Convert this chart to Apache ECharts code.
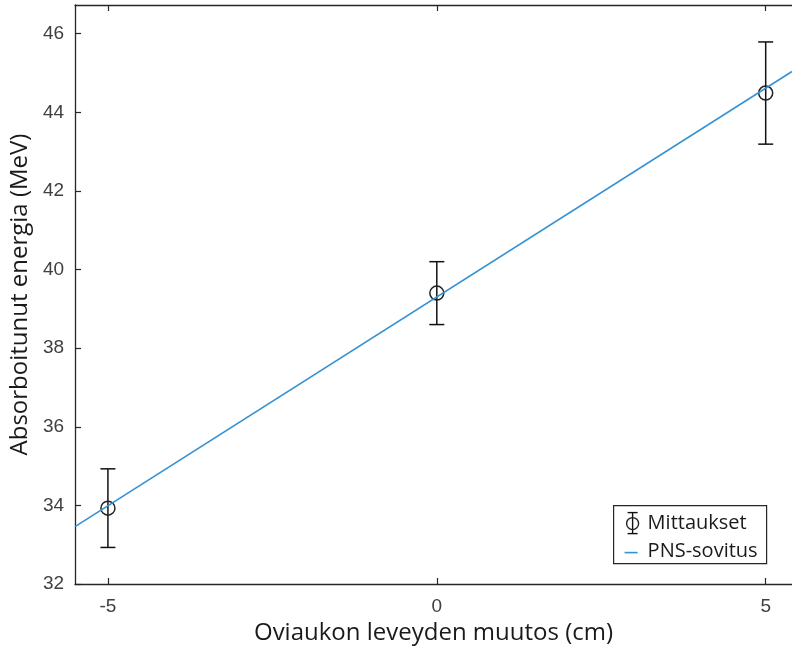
<!DOCTYPE html>
<html>
<head>
<meta charset="utf-8">
<title>Absorboitunut energia</title>
<script src="https://cdn.jsdelivr.net/npm/echarts@6/dist/echarts.min.js"></script>
<style>
  html, body { margin: 0; padding: 0; background: #fff; }
  #chart { width: 792px; height: 651px; }
</style>
</head>
<body>
<div id="chart"></div>
<script>
// Measurements: opening width change (cm), absorbed energy (MeV), uncertainty (MeV)
const measX = [-5, 0, 5];
const measY = [33.93, 39.40, 44.49];
const measErr = [1.00, 0.80, 1.30];

// Least-squares fit line, end points across the plotted range
const fitX = [-5.5, 5.4];
const fitY = [33.46, 45.04];

// Axis ticks
const xTicks = [-5, 0, 5];
const yTicks = [32, 34, 36, 38, 40, 42, 44, 46];

const axisColor = '#262626';
const labelColor = '#404040';
const fitColor = '#3391d4';
const textFont = '"Open Sans", "Noto Sans", sans-serif';
const tickFont = '"Liberation Sans", Arial, sans-serif';

const chart = echarts.init(document.getElementById('chart'), null, { renderer: 'canvas' });

const errData = measX.map((x, i) => [x, measY[i], measErr[i]]);
const fitData = fitX.map((x, i) => [x, fitY[i]]);

function renderErrorBar(params, api) {
  const x = api.value(0), y = api.value(1), e = api.value(2);
  const top = api.coord([x, y + e]);
  const bot = api.coord([x, y - e]);
  const mid = api.coord([x, y]);
  const cap = 7.5;
  const stroke = { stroke: '#111', lineWidth: 1.5, fill: null };
  return {
    type: 'group',
    children: [
      { type: 'line', shape: { x1: top[0], y1: top[1], x2: bot[0], y2: bot[1] }, style: stroke },
      { type: 'line', shape: { x1: top[0] - cap, y1: top[1], x2: top[0] + cap, y2: top[1] }, style: stroke },
      { type: 'line', shape: { x1: bot[0] - cap, y1: bot[1], x2: bot[0] + cap, y2: bot[1] }, style: stroke },
      { type: 'circle', shape: { cx: mid[0], cy: mid[1], r: 7 }, style: { stroke: '#222', lineWidth: 1.5, fill: null } }
    ]
  };
}

const xBase = {
  type: 'value',
  min: -5.5,
  max: 5.4,
  splitLine: { show: false },
  axisLine: { show: true, onZero: false, lineStyle: { color: axisColor, width: 1.3 } },
  axisTick: { show: true, inside: true, length: 6, customValues: xTicks, lineStyle: { color: axisColor, width: 1.2 } }
};

const option = {
  animation: false,
  backgroundColor: '#fff',
  grid: { left: 74, right: 0, top: 5, bottom: 67, containLabel: false },
  xAxis: [
    Object.assign({}, xBase, {
      position: 'bottom',
      name: 'Oviaukon leveyden muutos (cm)',
      nameLocation: 'middle',
      nameGap: 32,
      nameTextStyle: { fontFamily: textFont, fontSize: 24, color: '#1a1a1a' },
      axisLabel: { customValues: xTicks, margin: 13, fontFamily: tickFont, fontSize: 19, color: labelColor }
    }),
    Object.assign({}, xBase, {
      position: 'top',
      axisLabel: { show: false }
    })
  ],
  yAxis: {
    type: 'value',
    min: 32,
    max: 46.73,
    splitLine: { show: false },
    name: 'Absorboitunut energia (MeV)',
    nameLocation: 'middle',
    nameGap: 37,
    nameTextStyle: { fontFamily: textFont, fontSize: 24, color: '#1a1a1a' },
    axisLine: { show: true, onZero: false, lineStyle: { color: axisColor, width: 1.3 } },
    axisTick: { show: true, inside: true, length: 6, customValues: yTicks, lineStyle: { color: axisColor, width: 1.2 } },
    axisLabel: { customValues: yTicks, margin: 11, fontFamily: tickFont, fontSize: 19, color: labelColor }
  },
  series: [
    {
      name: 'Mittaukset',
      type: 'custom',
      renderItem: renderErrorBar,
      data: errData,
      encode: { x: 0, y: [1] },
      z: 3
    },
    {
      name: 'PNS-sovitus',
      type: 'line',
      data: fitData,
      showSymbol: false,
      symbol: 'none',
      lineStyle: { color: fitColor, width: 1.6 },
      clip: true,
      z: 4
    }
  ],
  graphic: [
    {
      type: 'group',
      left: 613,
      top: 505,
      children: [
        { type: 'rect', shape: { x: 0, y: 0, width: 153, height: 58 }, style: { fill: '#fff', stroke: axisColor, lineWidth: 1.2 } },
        { type: 'line', shape: { x1: 19, y1: 7, x2: 19, y2: 28 }, style: { stroke: '#111', lineWidth: 1.4 } },
        { type: 'line', shape: { x1: 14, y1: 7, x2: 24, y2: 7 }, style: { stroke: '#111', lineWidth: 1.4 } },
        { type: 'line', shape: { x1: 14, y1: 28, x2: 24, y2: 28 }, style: { stroke: '#111', lineWidth: 1.4 } },
        { type: 'circle', shape: { cx: 19, cy: 18, r: 6 }, style: { stroke: '#222', lineWidth: 1.4, fill: null } },
        { type: 'text', x: 34, y: 18, style: { text: 'Mittaukset', font: '20px ' + textFont, fill: '#1a1a1a', textVerticalAlign: 'middle' } },
        { type: 'line', shape: { x1: 11, y1: 47, x2: 24, y2: 47 }, style: { stroke: fitColor, lineWidth: 1.6 } },
        { type: 'text', x: 34, y: 46, style: { text: 'PNS-sovitus', font: '20px ' + textFont, fill: '#1a1a1a', textVerticalAlign: 'middle' } }
      ]
    }
  ]
};

chart.setOption(option);
</script>
</body>
</html>
